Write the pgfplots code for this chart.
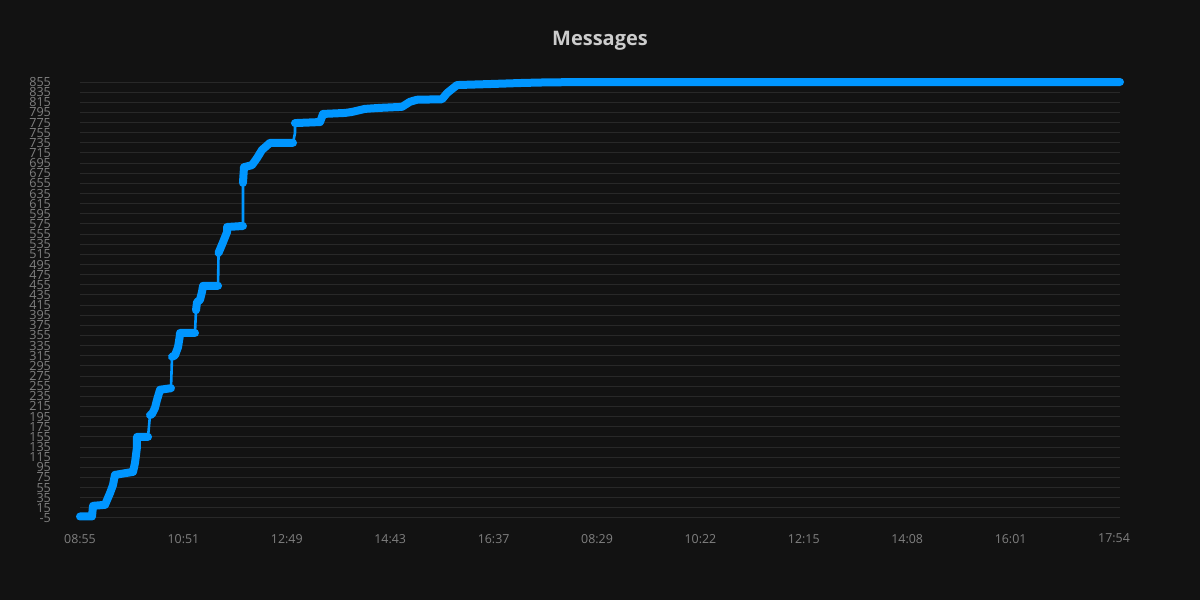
\documentclass[border=0pt]{standalone}
\usepackage{fontspec}
\setmainfont{Open Sans}
\usepackage{pgfplots}
\pgfplotsset{compat=1.18}
\definecolor{bg}{HTML}{121212}
\definecolor{gridc}{HTML}{282828}
\definecolor{tickc}{HTML}{808080}
\definecolor{titlec}{HTML}{CCCCCC}
\definecolor{msgblue}{HTML}{0096FF}

\begin{document}
\begin{tikzpicture}
\fill[bg] (0,0) rectangle (600pt,300pt);
\useasboundingbox (0,0) rectangle (600pt,300pt);
\begin{axis}[
    at={(40pt,41pt)}, anchor=south west,
    scale only axis, width=520pt, height=218pt,
    xmin=0, xmax=10.058, ymin=-5, ymax=855,
    clip=false,
    axis line style={draw=none},
    major tick length=0pt,
    xtick={0,1,2,3,4,5,6,7,8,9,10},
    xticklabels={08:55,10:51,12:49,14:43,16:37,08:29,10:22,12:15,14:08,16:01,17:54},
    ytick={-5,15,...,855},
    ymajorgrids,
    grid style={gridc, line width=0.5pt},
    /pgf/number format/assume math mode=true,
    xticklabel style={font=\fontsize{6.2}{7}\selectfont, text=tickc, yshift=-4.5pt},
    yticklabel style={font=\fontsize{6.3}{6}\selectfont, text=tickc, xshift=-11pt,
                      inner ysep=0pt},
    title={Messages},
    title style={font=\fontsize{10}{12}\selectfont\bfseries, text=titlec,
                 at={(0.5,1)}, anchor=center, yshift=14.5pt},
]
% thin line through every reading
\addplot[msgblue, line width=1.3pt] coordinates {
(0,-2) (0.116,-2) (0.126,19) (0.242,21) (0.290,44) (0.319,60) (0.338,80)
(0.513,86) (0.532,104) (0.551,135) (0.551,155) (0.658,155)
(0.677,198) (0.696,200) (0.725,212) (0.745,228) (0.774,248) (0.880,251)
(0.890,313) (0.919,316) (0.948,332) (0.967,356) (0.967,360) (1.112,360)
(1.122,405) (1.132,421) (1.160,425) (1.180,441) (1.190,453) (1.335,453)
(1.340,518) (1.383,539) (1.422,559) (1.422,569) (1.576,571)
(1.576,656) (1.580,668) (1.586,687) (1.663,691) (1.712,705) (1.760,721) (1.838,735) (2.060,735)
(2.079,754) (2.079,774) (2.321,776) (2.340,786) (2.350,792) (2.563,794) (2.631,796)
(2.756,802) (2.901,804) (3.114,806) (3.191,816) (3.259,820) (3.501,821) (3.549,833)
(3.646,849) (3.965,851) (4.255,853) (4.449,854) (4.836,855) (10.058,855)
};
% dense runs of messages, drawn thick
\addplot[msgblue, line width=4pt, line cap=round, line join=round, unbounded coords=jump] coordinates {
(0,-2) (0.116,-2) (0.126,19) (0.242,21) (0.290,44) (0.319,60) (0.338,80)
(0.513,86) (0.532,104) (0.551,135) (0.551,155) (0.658,155)
(0.66,nan)
(0.677,198) (0.696,200) (0.725,212) (0.745,228) (0.774,248) (0.880,251)
(0.885,nan)
(0.890,313) (0.919,316) (0.948,332) (0.967,356) (0.967,360) (1.112,360)
(1.115,nan)
(1.122,405) (1.132,421) (1.160,425) (1.180,441) (1.190,453) (1.335,453)
(1.337,nan)
(1.340,518) (1.383,539) (1.422,559) (1.422,569) (1.576,571)
(1.577,nan)
(1.576,656) (1.580,668) (1.586,687) (1.663,691) (1.712,705) (1.760,721) (1.838,735) (2.060,735)
(2.070,nan)
(2.079,774) (2.321,776) (2.340,786) (2.350,792) (2.563,794) (2.631,796)
(2.756,802) (2.901,804) (3.114,806) (3.191,816) (3.259,820) (3.501,821) (3.549,833)
(3.646,849) (3.965,851) (4.255,853) (4.449,854) (4.836,855) (10.058,855)
};
\end{axis}
\end{tikzpicture}
\end{document}
